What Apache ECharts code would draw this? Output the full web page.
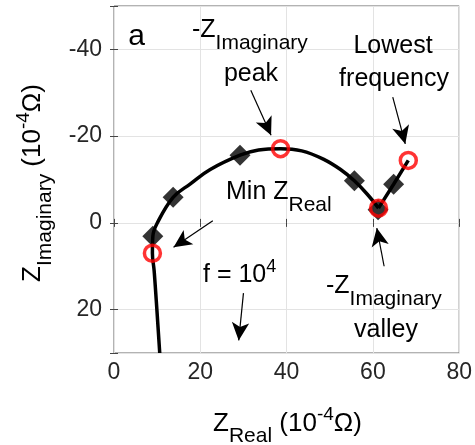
<!DOCTYPE html>
<html><head><meta charset="utf-8">
<script src="https://cdn.jsdelivr.net/npm/echarts@6/dist/echarts.min.js"></script>
<style>html,body{margin:0;padding:0;background:#fff}#c{width:475px;height:445px}</style>
</head><body><div id="c"></div>
<script>
// ---- data ----
const xTicks = [0, 20, 40, 60, 80];
const yTicks = [-40, -20, 0, 20];
// main impedance arc (high frequency tail -> valley)
const arcX = [10.6, 10.2, 9.8, 9.3, 8.9, 9.0, 10.0, 13.7, 17.7, 22.3, 29.2, 33.5, 38.6, 43.5, 48.5, 52.5, 55.7, 58.7, 61.3];
const arcY = [30, 24, 18, 11, 7.0, 3.1, 0.1, -5.9, -9.0, -12.3, -15.6, -16.8, -17.1, -16.6, -14.7, -12.3, -9.7, -6.6, -3.4];
// low frequency branch (valley -> lowest frequency)
const tailX = [61.3, 64.8, 68.2];
const tailY = [-3.4, -8.9, -14.4];
// diamond markers
const diamondX = [9.0, 13.7, 29.2, 55.7, 61.2, 64.8];
const diamondY = [3.1, -5.9, -15.6, -9.7, -3.0, -8.9];
// red circle markers (min Z_real, peak, valley, lowest frequency)
const circleX = [8.9, 38.6, 61.3, 68.2];
const circleY = [7.0, -17.1, -3.4, -14.4];
// annotation arrows (tail -> tip), data coordinates
const arrowFromX = [31.7, 64.6, 22.9, 30.0, 62.6];
const arrowFromY = [-30.6, -29.0, -0.5, 16.2, 10.0];
const arrowToX = [36.4, 67.5, 13.8, 28.9, 60.9];
const arrowToY = [-20.2, -18.2, 5.6, 27.1, 1.2];

const zip = (a, b) => a.map((v, i) => [v, b[i]]);
const FF = "'Liberation Sans', Arial, sans-serif";

function richStyles(fs, sfs, pfs) {
  const mc = 8 + (fs + 1) / 2;
  return {
    m: {fontSize: fs, lineHeight: fs + 1, padding: [8, 0, 0, 0], verticalAlign: 'top', fontFamily: FF, fill: '#000'},
    s: {fontSize: sfs, lineHeight: sfs, padding: [mc + 12 - sfs / 2, 0, 0, 0], verticalAlign: 'top', fontFamily: FF, fill: '#000'},
    p: {fontSize: pfs, lineHeight: pfs, padding: [Math.max(0, mc - 9 - pfs / 2), 0, 0, 0], verticalAlign: 'top', fontFamily: FF, fill: '#000'},
    big: {fontSize: 30, lineHeight: 30, padding: [mc - 15, 0, 0, 0], verticalAlign: 'top', fontFamily: FF, fill: '#000'},
    _mc: mc
  };
}
const annR = richStyles(25, 21, 18);
const axR = richStyles(26, 21, 19);
function txt(text, x, yc, align, R, rot) {
  const r = Object.assign({}, R); delete r._mc;
  const el = {type: 'text', silent: true, z: 100,
    style: {text: text, rich: r, x: 0, y: -R._mc, align: align, verticalAlign: 'top', fill: '#000', fontFamily: FF}};
  el.x = x; el.y = yc;
  if (rot) el.rotation = rot;
  return el;
}

const chart = echarts.init(document.getElementById('c'), null, {renderer: 'canvas'});
const tickLabel = {color: '#262626', fontSize: 23, fontFamily: FF};
chart.setOption({
  animation: false,
  backgroundColor: '#fff',
  grid: {left: 114, top: 6, width: 347, height: 347, show: true, borderColor: '#666', borderWidth: 1, backgroundColor: 'transparent'},
  xAxis: [{
    type: 'value', min: 0, max: 80, interval: 20, position: 'bottom',
    axisLine: {show: false},
    axisTick: {show: true, inside: true, length: 4, lineStyle: {color: '#444'}},
    axisLabel: Object.assign({margin: 8, formatter: v => xTicks.includes(v) ? String(v) : ''}, tickLabel),
    splitLine: {show: true, lineStyle: {color: '#e3e3e3', width: 1}}
  }, {
    type: 'value', min: 0, max: 80, interval: 20, position: 'top',
    axisLine: {show: false},
    axisTick: {show: true, inside: true, length: 4, lineStyle: {color: '#444'}},
    axisLabel: {show: false}, splitLine: {show: false}
  }],
  yAxis: [{
    type: 'value', min: -50, max: 30, splitNumber: 4, inverse: true, position: 'left',
    axisLine: {show: false},
    axisTick: {show: true, inside: true, length: 4, lineStyle: {color: '#444'}},
    axisLabel: Object.assign({margin: 12, formatter: v => yTicks.includes(v) ? String(v) : ''}, tickLabel),
    splitLine: {show: true, lineStyle: {color: '#e3e3e3', width: 1}}
  }, {
    type: 'value', min: -50, max: 30, splitNumber: 4, inverse: true, position: 'right',
    axisLine: {show: false},
    axisTick: {show: true, inside: true, length: 4, lineStyle: {color: '#444'}},
    axisLabel: {show: false}, splitLine: {show: false}
  }],
  series: [
    {type: 'line', data: zip(arcX, arcY), smooth: 0.4, showSymbol: false, symbol: 'none',
     lineStyle: {color: '#000', width: 3.5}, z: 2},
    {type: 'line', data: zip(tailX, tailY), smooth: false, showSymbol: false, symbol: 'none',
     lineStyle: {color: '#000', width: 3.5}, z: 2},
    {type: 'scatter', data: zip(diamondX, diamondY), symbol: 'diamond', symbolSize: 21,
     itemStyle: {color: '#000'}, z: 3},
    {type: 'scatter', data: zip(circleX, circleY), symbol: 'circle', symbolSize: 16,
     itemStyle: {color: 'rgba(0,0,0,0)', borderColor: '#ff0000', borderWidth: 3.5}, z: 4},
    {type: 'line', data: [], z: 5,
     markLine: {silent: true, animation: false, symbol: ['none', 'arrow'], symbolSize: [13, 18],
       label: {show: false}, lineStyle: {color: '#000', width: 1.2, type: 'solid'},
       emphasis: {disabled: true},
       data: arrowFromX.map((x, i) => [{coord: [x, arrowFromY[i]]}, {coord: [arrowToX[i], arrowToY[i]]}])}}
  ],
  graphic: [
    txt('{big|a}', 136.5, 37, 'center', annR),
    txt('{m|-Z}{s|Imaginary}', 192, 31, 'left', annR),
    txt('{m|peak}', 251, 75, 'center', annR),
    txt('{m|Lowest}', 393, 47, 'center', annR),
    txt('{m|frequency}', 394, 80, 'center', annR),
    txt('{m|Min Z}{s|Real}', 226, 193, 'left', annR),
    txt('{m|f = 10}{p|4}', 203, 276, 'left', annR),
    txt('{m|-Z}{s|Imaginary}', 326, 287, 'left', annR),
    txt('{m|valley}', 386, 331, 'center', annR),
    txt('{m|Z}{s|Real}{m| (10}{p|-4}{m|Ω)}', 287.5, 424, 'center', axR),
    txt('{m|Z}{s|Imaginary}{m| (10}{p|-4}{m|Ω)}', 33, 183, 'center', axR, Math.PI / 2)
  ]
});
</script>
</body></html>
